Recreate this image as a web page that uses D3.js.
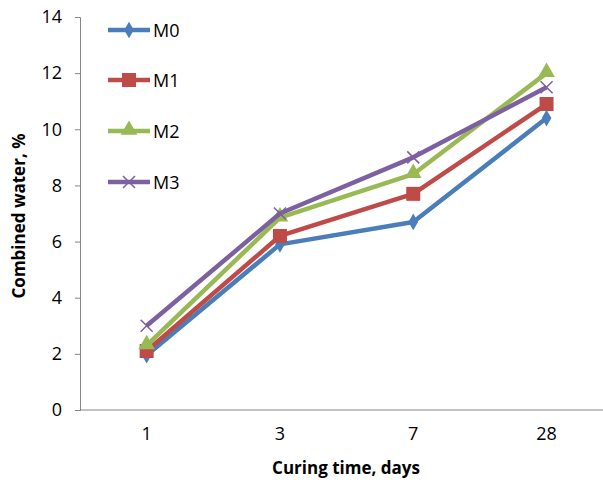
<!DOCTYPE html>
<html>
<head>
<meta charset="utf-8">
<script src="https://cdn.jsdelivr.net/npm/d3@7"></script>
<style>
  body { margin: 0; background: #fff; }
  text { font-family: "Open Sans", sans-serif; fill: #000; }
</style>
</head>
<body>
<div id="chart"></div>
<script>
// data
var days = ["1", "3", "7", "28"];
var seriesNames = ["M0", "M1", "M2", "M3"];
var m0 = [1.95, 5.9, 6.7, 10.4];
var m1 = [2.1, 6.2, 7.7, 10.9];
var m2 = [2.3, 6.85, 8.4, 12.0];
var m3 = [3.0, 7.0, 9.0, 11.5];
var yTicks = [0, 2, 4, 6, 8, 10, 12, 14];

var colors = ["#4a7ebb", "#be4b48", "#98b954", "#7d60a0"];
var shapes = ["diamond", "square", "triangle", "cross"];

var width = 603, height = 480;
var plotLeft = 80, plotTop = 17, plotBottom = 410;

var svg = d3.select("#chart").append("svg")
  .attr("width", width).attr("height", height);

var x = d3.scaleBand().domain(days).range([plotLeft, plotLeft + 4 * 133.3]);
var y = d3.scaleLinear().domain([0, 14]).range([plotBottom, plotTop]);

// y axis
var yAxis = svg.append("g").attr("transform", "translate(" + plotLeft + ",0)")
  .call(d3.axisLeft(y).tickValues(yTicks).tickSize(5).tickPadding(13));
yAxis.select(".domain").attr("stroke", "#868686");
yAxis.selectAll(".tick line").attr("stroke", "#868686");
yAxis.selectAll("text").style("font-size", "18px");

// x axis (no tick marks)
var xAxis = svg.append("g").attr("transform", "translate(0," + plotBottom + ")")
  .call(d3.axisBottom(x).tickSize(0).tickPadding(17));
xAxis.select(".domain").remove();
xAxis.selectAll("text").style("font-size", "18px");
svg.append("line")
  .attr("x1", plotLeft).attr("x2", width).attr("y1", plotBottom).attr("y2", plotBottom)
  .attr("stroke", "#868686");

// axis titles
svg.append("text")
  .attr("x", 346).attr("y", 474)
  .attr("text-anchor", "middle")
  .style("font-size", "17px").style("font-weight", "bold")
  .text("Curing time, days");
svg.append("text")
  .attr("transform", "translate(25,216) rotate(-90)")
  .attr("text-anchor", "middle")
  .style("font-size", "17px").style("font-weight", "bold")
  .text("Combined water, %");

function drawMarker(g, shape, color, cx, cy) {
  if (shape === "diamond") {
    g.append("path").attr("d", d3.symbol(d3.symbolDiamond, 80)())
      .attr("transform", "translate(" + cx + "," + cy + ")").attr("fill", color);
  } else if (shape === "square") {
    g.append("rect").attr("x", cx - 7).attr("y", cy - 7).attr("width", 14).attr("height", 14)
      .attr("fill", color);
  } else if (shape === "triangle") {
    g.append("path").attr("d", d3.symbol(d3.symbolTriangle, 120)())
      .attr("transform", "translate(" + cx + "," + (cy - 1) + ")").attr("fill", color);
  } else {
    g.append("path").attr("d", "M-6,-6L6,6M-6,6L6,-6")
      .attr("transform", "translate(" + cx + "," + cy + ")")
      .attr("stroke", color).attr("stroke-width", 1.5).attr("fill", "none");
  }
}

var allSeries = [m0, m1, m2, m3];
var line = d3.line()
  .x(function (d, i) { return x(days[i]) + x.bandwidth() / 2; })
  .y(function (d) { return y(d); });

allSeries.forEach(function (vals, s) {
  var g = svg.append("g");
  g.append("path").datum(vals).attr("d", line)
    .attr("fill", "none").attr("stroke", colors[s]).attr("stroke-width", 4.5)
    .attr("stroke-linejoin", "round");
  vals.forEach(function (v, i) {
    drawMarker(g, shapes[s], colors[s], x(days[i]) + x.bandwidth() / 2, y(v));
  });
});

// legend
var legendY = [30, 80, 131, 182];
seriesNames.forEach(function (name, s) {
  var g = svg.append("g");
  g.append("line").attr("x1", 108).attr("x2", 150)
    .attr("y1", legendY[s]).attr("y2", legendY[s])
    .attr("stroke", colors[s]).attr("stroke-width", 4.5);
  drawMarker(g, shapes[s], colors[s], 129, legendY[s]);
  g.append("text").attr("x", 153).attr("y", legendY[s] + 7)
    .style("font-size", "18px").text(name);
});
</script>
</body>
</html>
